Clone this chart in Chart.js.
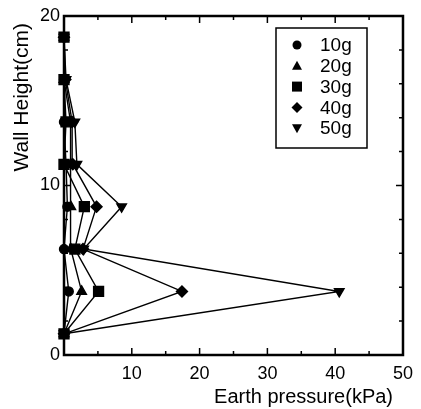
<!DOCTYPE html>
<html lang="en">
<head>
    <script src="https://cdn.jsdelivr.net/npm/chart.js@4/dist/chart.umd.min.js"></script>
    <style>
        body { margin: 0; background: #fff; }
        #wrap { width: 421px; height: 409px; }
    </style>
</head>
<body>

<div id="wrap"><canvas id="pressure-chart" width="421" height="409"></canvas></div>

<script>
    const heights = [1.25, 3.75, 6.25, 8.75, 11.25, 13.75, 16.25, 18.75];
    const labels = ["10g", "20g", "30g", "40g", "50g"];
    const p10 = [0, 0.7, 0, 0.5, 0.3, 0, 0, 0];
    const p20 = [0, 2.6, 1.0, 1.0, 1.0, 0.9, 0, 0];
    const p30 = [0, 5.1, 1.6, 3.0, 0, 0.3, 0, 0];
    const p40 = [0, 17.4, 2.8, 4.8, 1.3, 1.2, 0.2, 0];
    const p50 = [0, 40.6, 2.9, 8.5, 1.9, 1.6, 0.3, 0];
    const xTicks = [0, 10, 20, 30, 40, 50];
    const yTicks = [0, 10, 20];
    const xTitle = "Earth pressure(kPa)";
    const yTitle = "Wall Height(cm)";

    const series = [p10, p20, p30, p40, p50];
    const styles = ["circle", "triangle", "rect", "rectRot", "triangle"];
    const rotations = [0, 0, 0, 0, 180];
    const radii = [4.5, 5.5, 7, 5.5, 5.5];
    const orders = [4, 3, 0, 2, 1];
    const FONT = "'Liberation Sans', Arial, sans-serif";

    const datasets = series.map((vals, i) => ({
        label: labels[i],
        data: vals.map((v, j) => ({x: v, y: heights[j]})),
        showLine: true,
        borderColor: "#000",
        backgroundColor: "#000",
        borderWidth: 1.4,
        pointStyle: styles[i],
        rotation: rotations[i],
        pointRadius: radii[i],
        clip: false,
        order: orders[i]
    }));

    // frame, inward ticks on all four sides, axis titles
    const frame = {
        id: "frame",
        afterDatasetsDraw(chart) {
            const ctx = chart.ctx, a = chart.chartArea;
            const xs = chart.scales.x, ys = chart.scales.y;
            ctx.save();
            ctx.strokeStyle = "#000";
            ctx.lineWidth = 1.5;
            for (let v = 5; v < 50; v += 5) {
                const px = xs.getPixelForValue(v);
                const len = v % 10 === 0 ? 7 : 4;
                ctx.beginPath();
                ctx.moveTo(px, a.bottom); ctx.lineTo(px, a.bottom - len);
                ctx.moveTo(px, a.top); ctx.lineTo(px, a.top + len);
                ctx.stroke();
            }
            for (let v = 2; v < 20; v += 2) {
                const py = ys.getPixelForValue(v);
                const len = v % 10 === 0 ? 7 : 4;
                ctx.beginPath();
                ctx.moveTo(a.left, py); ctx.lineTo(a.left + len, py);
                ctx.moveTo(a.right, py); ctx.lineTo(a.right - len, py);
                ctx.stroke();
            }
            ctx.lineWidth = 2.5;
            ctx.strokeRect(a.left, a.top, a.right - a.left, a.bottom - a.top);

            ctx.fillStyle = "#000";
            ctx.font = "20px " + FONT;
            ctx.textAlign = "right";
            ctx.textBaseline = "alphabetic";
            ctx.fillText(xTitle, 393, 403);

            ctx.font = "21px " + FONT;
            ctx.translate(22, a.top + 7);
            ctx.rotate(-Math.PI / 2);
            ctx.textAlign = "right";
            ctx.textBaseline = "middle";
            ctx.fillText(yTitle, 0, 0);
            ctx.restore();
        }
    };

    const legendBox = {
        id: "legendBox",
        afterDraw(chart) {
            const ctx = chart.ctx;
            const bx = 276, by = 28, bw = 91, bh = 120;
            ctx.save();
            ctx.fillStyle = "#fff";
            ctx.fillRect(bx, by, bw, bh);
            ctx.strokeStyle = "#000";
            ctx.lineWidth = 1.5;
            ctx.strokeRect(bx, by, bw, bh);
            ctx.fillStyle = "#000";
            ctx.font = "19px " + FONT;
            ctx.textBaseline = "middle";
            labels.forEach((lab, i) => {
                const cy = by + 17 + i * 20.8;
                const cx = bx + 21;
                ctx.beginPath();
                if (styles[i] === "circle") {
                    ctx.arc(cx, cy, 4.5, 0, Math.PI * 2);
                } else if (styles[i] === "rect") {
                    ctx.rect(cx - 5, cy - 5, 10, 10);
                } else if (styles[i] === "rectRot") {
                    ctx.moveTo(cx, cy - 5.5); ctx.lineTo(cx + 5.5, cy);
                    ctx.lineTo(cx, cy + 5.5); ctx.lineTo(cx - 5.5, cy);
                } else if (rotations[i] === 180) {
                    ctx.moveTo(cx - 5, cy - 4); ctx.lineTo(cx + 5, cy - 4); ctx.lineTo(cx, cy + 5);
                } else {
                    ctx.moveTo(cx - 5, cy + 4); ctx.lineTo(cx + 5, cy + 4); ctx.lineTo(cx, cy - 5);
                }
                ctx.closePath();
                ctx.fill();
                ctx.fillText(lab, bx + 44, cy + 1);
            });
            ctx.restore();
        }
    };

    const font = {family: FONT, size: 18};

    new Chart("pressure-chart", {
        type: "scatter",
        data: {datasets: datasets},
        options: {
            responsive: false,
            animation: false,
            layout: {padding: {top: 16, right: 13, left: 0, bottom: 0}},
            plugins: {legend: {display: false}, tooltip: {enabled: false}},
            scales: {
                x: {
                    type: "linear", min: 0, max: 50,
                    grid: {display: false, drawTicks: false},
                    border: {display: false},
                    afterBuildTicks: s => { s.ticks = xTicks.map(v => ({value: v})); },
                    ticks: {
                        color: "#000", font: font, padding: 8, maxRotation: 0,
                        callback: v => v === 0 ? "" : v
                    },
                    afterFit: s => { s.height = 54; }
                },
                y: {
                    type: "linear", min: 0, max: 20,
                    grid: {display: false, drawTicks: false},
                    border: {display: false},
                    afterBuildTicks: s => { s.ticks = yTicks.map(v => ({value: v})); },
                    ticks: {color: "#000", font: font, padding: 4},
                    afterFit: s => { s.width = 64; }
                }
            }
        },
        plugins: [frame, legendBox]
    });
</script>

</body>
</html>
